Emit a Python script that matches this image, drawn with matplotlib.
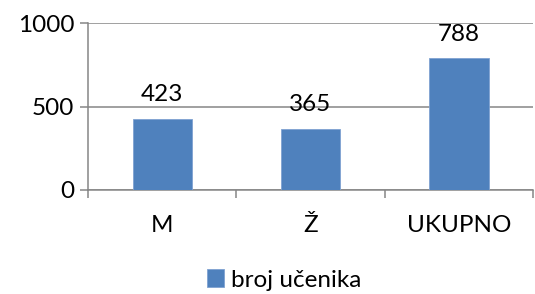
import matplotlib.pyplot as plt
import numpy as np

categories = ['M', 'Ž', 'UKUPNO']
values = [423, 365, 788]
series_name = 'broj učenika'
y_ticks = [0, 500, 1000]

plt.rcParams['font.family'] = ['Lato', 'DejaVu Sans']

W, H = 535, 294
fs = 17.5
fig = plt.figure(figsize=(W / 100, H / 100), dpi=100)
ax = fig.add_axes([88 / W, (H - 190) / H, 445 / W, (190 - 23) / H])

grey = '#868686'
blue = '#4F81BD'
x = np.arange(len(categories))
bars = ax.bar(x, values, width=0.4, color=blue, edgecolor='#7FA2D2',
              linewidth=0.6, label=series_name, zorder=3)

for b, v in zip(bars, values):
    ax.annotate(str(v), (b.get_x() + b.get_width() / 2, v),
                xytext=(0, 10), textcoords='offset points',
                ha='center', va='bottom', fontsize=fs, color='black')

ax.set_xlim(-0.5, len(categories) - 0.5)
ax.set_ylim(0, 1000)
ax.set_yticks(y_ticks)
ax.set_yticklabels([str(t) for t in y_ticks])
ax.yaxis.grid(True, color=grey, linewidth=1.1, zorder=0)

ax.set_xticks(x)
ax.set_xticklabels(categories)
ax.set_xticks(np.arange(len(categories) + 1) - 0.5, minor=True)
ax.tick_params(axis='x', which='major', length=0, pad=18, labelsize=fs)
ax.tick_params(axis='x', which='minor', length=6, width=1.1, color=grey)
ax.tick_params(axis='y', length=6, width=1.1, color=grey, pad=4, labelsize=fs)

for s in ['top', 'right']:
    ax.spines[s].set_visible(False)
for s in ['left', 'bottom']:
    ax.spines[s].set_color(grey)
    ax.spines[s].set_linewidth(1.1)

fig.legend(handles=[bars], labels=[series_name], loc='center',
           bbox_to_anchor=(284 / W, 1 - 280 / H), frameon=False,
           fontsize=fs, handlelength=0.7, handleheight=0.7,
           handletextpad=0.3)

fig.savefig('out.png', dpi=100)
